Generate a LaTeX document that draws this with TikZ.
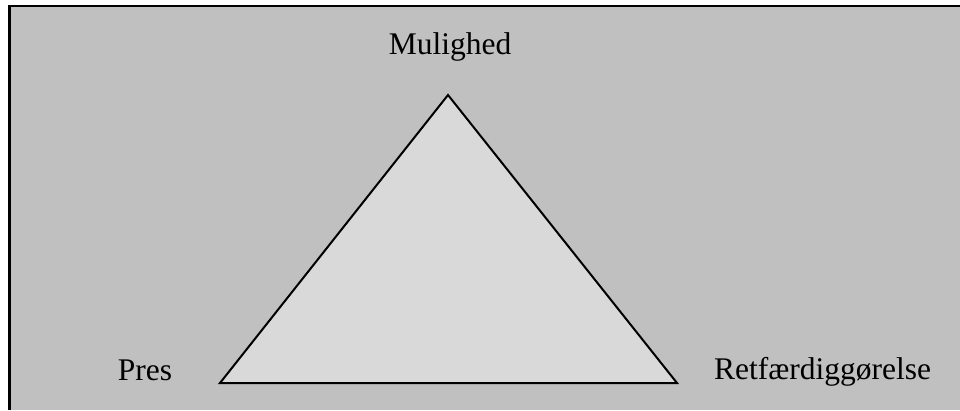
\documentclass[tikz,border=0pt]{standalone}
\usepackage{fontspec}
\setmainfont{Liberation Serif}
\definecolor{panelgray}{HTML}{C0C0C0}
\definecolor{trigray}{HTML}{D9D9D9}
\tikzset{
  lbl/.style={anchor=base, inner sep=0pt, font=\fontsize{31.5}{36}\selectfont},
  tri/.style={draw=black, line width=2pt, fill=trigray, line join=miter},
  frame/.style={draw=black, line width=2.5pt}
}
\begin{document}
\begin{tikzpicture}[x=1pt,y=1pt]
  \useasboundingbox (0,0) rectangle (960,410);
  \fill[white] (0,0) rectangle (960,410);
  \fill[panelgray] (9.5,0) rectangle (960,404);
  \draw[frame] (9.5,0) -- (9.5,404) -- (960,404);
  \coordinate (top) at (448,315);
  \coordinate (bl) at (220,27);
  \coordinate (br) at (677,27);
  \draw[tri] (top) -- (bl) -- (br) -- cycle;
  \node[lbl] (mulighed) at (450,355) {Mulighed};
  \node[lbl] (pres) at (145,30) {Pres};
  \node[lbl] (retf) at (822.5,30.5) {Retfærdiggørelse};
\end{tikzpicture}
\end{document}
